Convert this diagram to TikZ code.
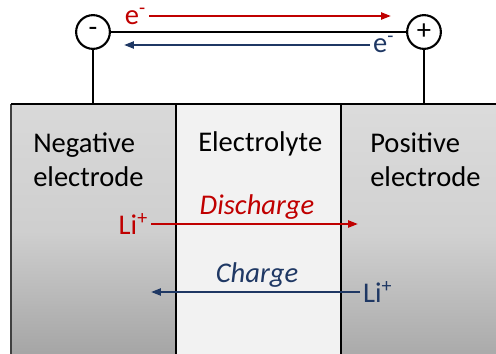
\documentclass[tikz,border=0pt]{standalone}
\usepackage{fontspec}
\setmainfont{Carlito}
\definecolor{ionred}{RGB}{192,0,0}
\definecolor{ionblue}{RGB}{31,56,100}
\usetikzlibrary{arrows.meta, positioning, calc}

\tikzset{
  wire/.style={line width=1.5pt},
  pole/.style={circle, draw, line width=1.5pt, minimum size=24pt, inner sep=0pt},
  flow/.style={line width=1.4pt, -{Triangle[length=7pt, width=5pt]}},
  lbl/.style={inner sep=0pt, align=left}
}

\begin{document}
\begin{tikzpicture}[x=0.025cm, y=-0.025cm, every node/.style={font=\fontsize{20.3}{24.8}\selectfont}]
  \useasboundingbox (0,0) rectangle (496,354);
  \clip (0,0) rectangle (496,354);

  % cell body
  \fill[top color=black!15, bottom color=black!36, middle color=black!19] (11,104) rectangle (176,360);
  \fill[black!5] (176,104) rectangle (341,360);
  \fill[top color=black!14, bottom color=black!34, middle color=black!18] (341,104) rectangle (500,360);
  \draw[black!75, line width=2pt] (11,104) -- (11,360);
  \draw[line width=1pt] (11,104) -- (500,104);
  \draw[line width=1pt] (176,104) -- (176,360);
  \draw[line width=1pt] (341,104) -- (341,360);

  \coordinate (negtop) at (93,104);
  \coordinate (postop) at (424,104);

  % external circuit
  \node[pole] (neg) at (93,32) {-};
  \node[pole] (pos) at (424,32) {+};
  \draw[wire] (neg) -- (pos);
  \draw[wire] (neg) -- (negtop);
  \draw[wire] (pos) -- (postop);

  \node[anchor=base east, inner sep=2pt, text=ionred] (ered) at (149,25) {e\textsuperscript{-}};
  \coordinate (redtip) at (391,16);
  \draw[flow, ionred] (ered.east |- redtip) -- (redtip);

  \node[anchor=base west, inner sep=2pt, text=ionblue] (eblue) at (370,53) {e\textsuperscript{-}};
  \coordinate (bluetip) at (124,45);
  \draw[flow, ionblue] (eblue.west |- bluetip) -- (bluetip);

  % region labels
  \node[lbl, anchor=base west] (negtxt) at (33,187) {Negative\\electrode};
  \node[lbl, anchor=base west] (eltxt) at (198,152) {Electrolyte};
  \node[lbl, anchor=base west] (postxt) at (370,187) {Positive\\electrode};

  % ion transport
  \node[anchor=east, inner sep=2pt, text=ionred] (lired) at (151,224) {Li\textsuperscript{+}};
  \coordinate (disend) at (358,224);
  \draw[flow, ionred] (lired) -- (disend);
  \node[anchor=base, text=ionred, font=\fontsize{20.3}{24.8}\selectfont\itshape] (distxt) at (257,215) {Discharge};

  \node[anchor=west, inner sep=2pt, text=ionblue] (liblue) at (360,292) {Li\textsuperscript{+}};
  \coordinate (chgend) at (151,292);
  \draw[flow, ionblue] (liblue) -- (chgend);
  \node[anchor=base, text=ionblue, font=\fontsize{20.3}{24.8}\selectfont\itshape] (chgtxt) at (257,283) {Charge};
\end{tikzpicture}
\end{document}
